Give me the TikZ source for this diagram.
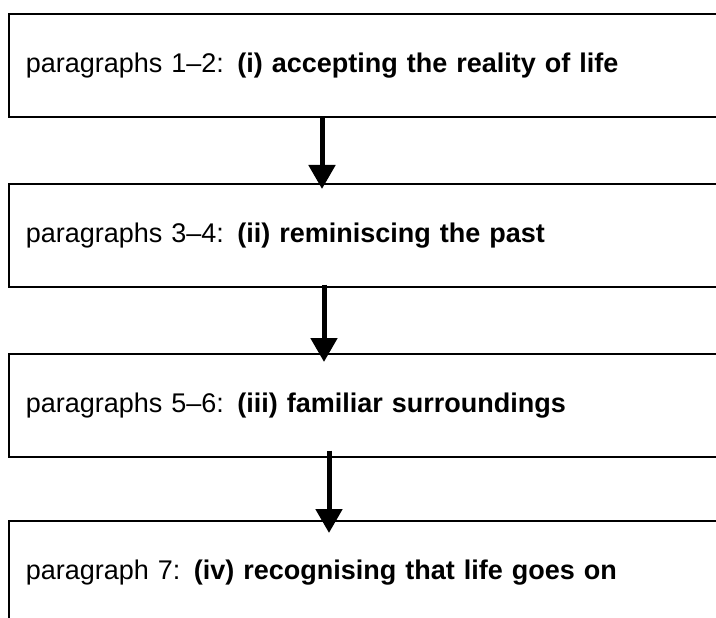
\documentclass[tikz,border=0pt]{standalone}
\usepackage{fontspec}
\setmainfont{Liberation Sans}
\usetikzlibrary{arrows.meta}
\begin{document}
\begin{tikzpicture}[x=1pt,y=-1pt,
  stage/.style={draw, line width=1.6pt, anchor=north west, minimum width=730pt,
    minimum height=103pt, inner xsep=17pt, text width=696pt, align=left,
    font=\fontsize{27}{32}\selectfont},
  flow/.style={line width=5pt, -{Triangle[width=26pt,length=24pt]}}]
\useasboundingbox (0,0) rectangle (716,618);
\clip (0,0) rectangle (716,618);
\node[stage] (s1) at (8,13)  {paragraphs 1--2: \textbf{(i) accepting the reality of life}};
\node[stage] (s2) at (8,183) {paragraphs 3--4: \textbf{(ii) reminiscing the past}};
\node[stage] (s3) at (8,353) {paragraphs 5--6: \textbf{(iii) familiar surroundings}};
\node[stage] (s4) at (8,520) {paragraph 7: \textbf{(iv) recognising that life goes on}};
% arrow tips reach a little past the next box's top edge
\coordinate (t1) at (322,189);
\coordinate (t2) at (324,362);
\coordinate (t3) at (329,533);
\draw[flow] (s1.south -| t1) -- (t1);
\draw[flow] ([yshift=3pt]s2.south -| t2) -- (t2);
\draw[flow] ([yshift=7pt]s3.south -| t3) -- (t3);
\end{tikzpicture}
\end{document}
